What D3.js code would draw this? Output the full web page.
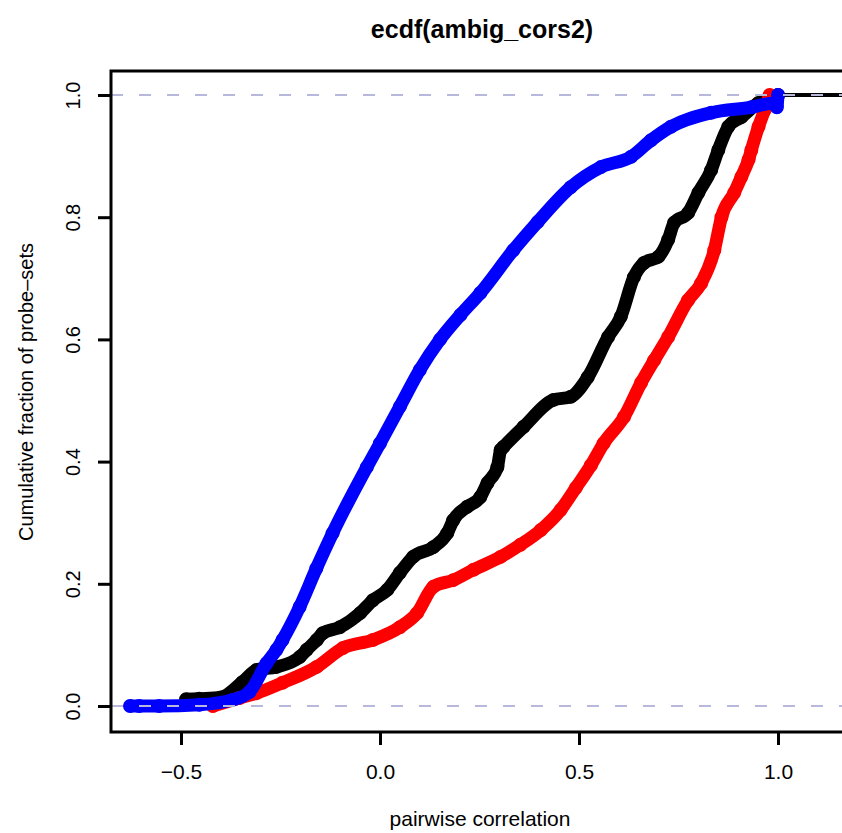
<!DOCTYPE html>
<html>
<head>
<meta charset="utf-8">
<script src="https://cdn.jsdelivr.net/npm/d3@7"></script>
<style>
  html, body { margin: 0; padding: 0; background: #ffffff; }
  svg { display: block; }
  text { font-family: "Liberation Sans", Arial, Helvetica, sans-serif; fill: #000; }
</style>
</head>
<body>
<svg id="chart" width="842" height="833"></svg>
<script>
// Empirical CDF points [pairwise correlation, cumulative fraction] for each group
const blackPts = [
  [-0.487, 0.011], [-0.454, 0.012], [-0.40, 0.014], [-0.346, 0.039], [-0.310, 0.059],
  [-0.260, 0.064], [-0.202, 0.080], [-0.184, 0.092], [-0.159, 0.108], [-0.144, 0.119],
  [-0.101, 0.129], [-0.050, 0.152], [-0.018, 0.173], [0.018, 0.190], [0.050, 0.218],
  [0.083, 0.244], [0.134, 0.260], [0.169, 0.283], [0.184, 0.304], [0.219, 0.326],
  [0.252, 0.342], [0.270, 0.365], [0.295, 0.391], [0.303, 0.419], [0.310, 0.424],
  [0.361, 0.457], [0.436, 0.501], [0.479, 0.506], [0.522, 0.538], [0.573, 0.604],
  [0.605, 0.637], [0.638, 0.702], [0.663, 0.725], [0.699, 0.735], [0.724, 0.763],
  [0.739, 0.791], [0.774, 0.807], [0.800, 0.840], [0.832, 0.877], [0.850, 0.910],
  [0.875, 0.948], [0.908, 0.964], [0.951, 0.987], [0.996, 0.997], [1.0, 1.0]
];
const redPts = [
  [-0.42, 0.0], [-0.353, 0.013], [-0.310, 0.021], [-0.245, 0.038], [-0.159, 0.064],
  [-0.093, 0.095], [-0.018, 0.108], [0.050, 0.129], [0.093, 0.152], [0.134, 0.195],
  [0.184, 0.206], [0.235, 0.223], [0.303, 0.244], [0.353, 0.264], [0.404, 0.288],
  [0.454, 0.321], [0.492, 0.357], [0.530, 0.394], [0.562, 0.430], [0.613, 0.473],
  [0.656, 0.529], [0.689, 0.566], [0.724, 0.604], [0.774, 0.664], [0.807, 0.692],
  [0.840, 0.746], [0.858, 0.800], [0.890, 0.840], [0.908, 0.866], [0.926, 0.894],
  [0.933, 0.910], [0.951, 0.948], [0.966, 0.975], [0.979, 1.0]
];
const bluePts = [
  [-0.628, 0.0], [-0.605, 0.0], [-0.555, 0.0], [-0.454, 0.002], [-0.371, 0.01],
  [-0.328, 0.023], [-0.285, 0.070], [-0.260, 0.092], [-0.245, 0.108], [-0.202, 0.162],
  [-0.160, 0.225], [-0.119, 0.283], [-0.033, 0.391], [0.0, 0.430], [0.050, 0.490],
  [0.100, 0.550], [0.151, 0.600], [0.202, 0.640], [0.252, 0.676], [0.335, 0.746],
  [0.396, 0.792], [0.479, 0.849], [0.555, 0.882], [0.631, 0.899], [0.681, 0.926],
  [0.731, 0.948], [0.832, 0.971], [0.933, 0.980], [0.991, 0.987], [0.997, 0.98],
  [1.0, 1.0]
];

const xTickValues = [-0.5, 0.0, 0.5, 1.0];
const xTickLabels = ["\u22120.5", "0.0", "0.5", "1.0"];
const yTickValues = [0.0, 0.2, 0.4, 0.6, 0.8, 1.0];
const yTickLabels = ["0.0", "0.2", "0.4", "0.6", "0.8", "1.0"];
const refLevels = [0, 1];

const chartTitle = "ecdf(ambig_cors2)";
const xTitle = "pairwise correlation";
const yTitle = "Cumulative fraction of probe\u2013sets";

// Plot frame
const box = { left: 111, right: 854, top: 71, bottom: 732 };

const svg = d3.select("#chart");
svg.append("rect").attr("width", 842).attr("height", 833).attr("fill", "#fff");

const x = d3.scaleLinear().domain([-0.5, 1.0]).range([181, 778]);
const y = d3.scaleLinear().domain([0, 1]).range([706, 95]);

const line = d3.line().x(d => x(d[0])).y(d => y(d[1])).curve(d3.curveMonotoneX);

const plot = svg.append("g");

function drawSeries(pts, color) {
  const g = plot.append("g");
  g.append("path")
    .attr("d", line(pts))
    .attr("fill", "none")
    .attr("stroke", color)
    .attr("stroke-width", 13)
    .attr("stroke-linejoin", "round")
    .attr("stroke-linecap", "round");
  g.selectAll("circle").data(pts).join("circle")
    .attr("cx", d => x(d[0]))
    .attr("cy", d => y(d[1]))
    .attr("r", 5.2)
    .attr("fill", "none")
    .attr("stroke", color)
    .attr("stroke-width", 3.6);
}

drawSeries(blackPts, "#000000");

// final horizontal step of the black ECDF, out to the frame
const lastBlack = blackPts[blackPts.length - 1];
plot.append("line")
  .attr("x1", x(lastBlack[0])).attr("x2", box.right)
  .attr("y1", y(lastBlack[1])).attr("y2", y(lastBlack[1]))
  .attr("stroke", "#000").attr("stroke-width", 4);

drawSeries(redPts, "#ff0000");
drawSeries(bluePts, "#0000ff");

// dashed reference lines at 0 and 1
plot.selectAll("line.ref").data(refLevels).join("line")
  .attr("class", "ref")
  .attr("x1", box.left).attr("x2", box.right)
  .attr("y1", d => y(d)).attr("y2", d => y(d))
  .attr("stroke", "#b8b8dc")
  .attr("stroke-width", 2)
  .attr("stroke-dasharray", "12,16");

// frame
svg.append("rect")
  .attr("x", box.left).attr("y", box.top)
  .attr("width", box.right - box.left).attr("height", box.bottom - box.top)
  .attr("fill", "none").attr("stroke", "#000").attr("stroke-width", 3);

// x axis
const xAxis = svg.append("g")
  .attr("transform", `translate(0,${box.bottom})`)
  .call(d3.axisBottom(x).tickValues(xTickValues)
    .tickFormat((d, i) => xTickLabels[i]).tickSize(13).tickPadding(19).tickSizeOuter(0));
xAxis.select(".domain").remove();
xAxis.selectAll(".tick line").attr("stroke", "#000").attr("stroke-width", 3);
xAxis.selectAll(".tick text").attr("font-size", 21).attr("fill", "#000")
  .style("font-family", "'Liberation Sans', Arial, sans-serif");

// y axis with labels rotated parallel to the axis
const yAxis = svg.append("g")
  .attr("transform", `translate(${box.left},0)`)
  .call(d3.axisLeft(y).tickValues(yTickValues)
    .tickFormat((d, i) => yTickLabels[i]).tickSize(13).tickSizeOuter(0));
yAxis.select(".domain").remove();
yAxis.selectAll(".tick line").attr("stroke", "#000").attr("stroke-width", 3);
yAxis.selectAll(".tick text")
  .attr("x", null).attr("dy", null)
  .attr("text-anchor", "middle")
  .attr("transform", `translate(${80 - box.left},0) rotate(-90)`)
  .attr("font-size", 20).attr("fill", "#000")
  .style("font-family", "'Liberation Sans', Arial, sans-serif");

// titles
svg.append("text")
  .attr("x", 482).attr("y", 38)
  .attr("text-anchor", "middle")
  .attr("font-size", 25).attr("font-weight", "bold")
  .text(chartTitle);

svg.append("text")
  .attr("x", 480).attr("y", 826)
  .attr("text-anchor", "middle")
  .attr("font-size", 21)
  .text(xTitle);

svg.append("text")
  .attr("transform", "translate(33,392) rotate(-90)")
  .attr("text-anchor", "middle")
  .attr("font-size", 20)
  .text(yTitle);
</script>
</body>
</html>
